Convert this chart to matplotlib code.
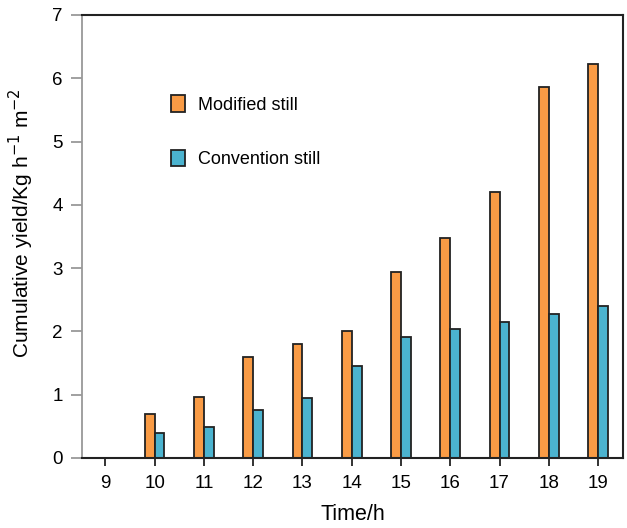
import numpy as np
import matplotlib.pyplot as plt
from matplotlib.patches import Patch

hours = [9, 10, 11, 12, 13, 14, 15, 16, 17, 18, 19]
modified = [0, 0.70, 0.96, 1.60, 1.80, 2.01, 2.94, 3.48, 4.20, 5.86, 6.22]
convention = [0, 0.39, 0.49, 0.76, 0.95, 1.45, 1.91, 2.04, 2.15, 2.27, 2.40]

orange = '#F99B45'
blue = '#4BB3CF'

plt.rcParams['font.family'] = 'Liberation Sans'

fig = plt.figure(figsize=(6.27, 5.28), dpi=100)
ax = fig.add_axes([0.131, 0.1326, 0.863, 0.839])

x = np.array(hours)
w = 0.2
ax.bar(x - w/2, modified, w, color=orange, edgecolor='#222222', linewidth=1.3)
ax.bar(x + w/2, convention, w, color=blue, edgecolor='#222222', linewidth=1.3)

ax.set_xlim(8.53, 19.51)
ax.set_ylim(0, 7)
ax.set_xticks(hours)
ax.set_yticks(range(0, 8))
ax.tick_params(axis='x', direction='out', length=6, width=1.3, color='#222222', labelsize=13.5, pad=6)
ax.tick_params(axis='y', direction='out', length=8, width=1.3, color='#999999', labelsize=13.5, pad=6)

ax.spines['left'].set_color('#999999')
ax.spines['left'].set_linewidth(1.3)
for s in ['top', 'right', 'bottom']:
    ax.spines[s].set_color('#222222')
    ax.spines[s].set_linewidth(1.5)

ax.set_xlabel('Time/h', fontsize=15.5, labelpad=9)
ax.set_ylabel('Cumulative yield/Kg h$^{-1}$ m$^{-2}$', fontsize=15)
ax.yaxis.set_label_coords(-0.085, 0.53)

handles = [Patch(facecolor=orange, edgecolor='#222222', linewidth=1.3),
           Patch(facecolor=blue, edgecolor='#222222', linewidth=1.3)]
ax.legend(handles, ['Modified still', 'Convention still'], loc='upper left',
          bbox_to_anchor=(0.134, 0.855), frameon=False, fontsize=13,
          handlelength=0.8, handleheight=1.0, labelspacing=2.0, handletextpad=0.7)

plt.savefig('out.png', dpi=100)
